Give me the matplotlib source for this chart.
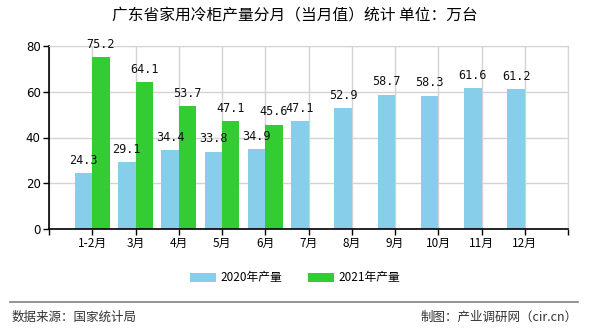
import matplotlib.pyplot as plt
import numpy as np

plt.rcParams['font.family'] = ['Noto Sans CJK SC', 'DejaVu Sans']

# --- data ---
months = ["1-2月", "3月", "4月", "5月", "6月", "7月", "8月", "9月", "10月", "11月", "12月"]
output_2020 = [24.3, 29.1, 34.4, 33.8, 34.9, 47.1, 52.9, 58.7, 58.3, 61.6, 61.2]
output_2021 = [75.2, 64.1, 53.7, 47.1, 45.6]
series_names = ["2020年产量", "2021年产量"]
y_ticks = [0, 20, 40, 60, 80]

BLUE = "#87CEEB"
GREEN = "#33CC33"


def main():
    fig = plt.figure(figsize=(5.9, 3.3), dpi=100)
    ax = fig.add_axes([49 / 590, 1 - 229 / 330, (568 - 49) / 590, (229 - 46) / 330])

    x = np.arange(len(months))
    w = 0.4
    b1 = ax.bar(x - w / 2, output_2020, width=w, color=BLUE, label=series_names[0], zorder=2)
    x2 = x[:len(output_2021)]
    b2 = ax.bar(x2 + w / 2, output_2021, width=w, color=GREEN, label=series_names[1], zorder=2)

    # value labels above each bar
    for bars, vals in ((b1, output_2020), (b2, output_2021)):
        for rect, v in zip(bars, vals):
            ax.text(rect.get_x() + rect.get_width() / 2, v + 2.8, f"{v:.1f}",
                    ha="center", va="bottom", fontsize=8.5,
                    family=["DejaVu Sans Mono"], color="#111111")

    # axes look
    ax.set_xlim(-1, len(months))
    ax.set_ylim(0, 80)
    ax.set_xticks(np.arange(-1, len(months) + 1))
    ax.set_xticklabels([""] + months + [""], fontsize=8.5)
    ax.set_yticks(y_ticks)
    ax.set_yticklabels([str(t) for t in y_ticks], fontsize=8.5, family=["DejaVu Sans"])
    ax.tick_params(axis="both", length=4, width=1, color="black", pad=2)
    ax.grid(True, color="#d3d3d3", linewidth=1, zorder=0)
    ax.set_axisbelow(True)
    for side in ("top", "right"):
        ax.spines[side].set_color("#d3d3d3")
    for side in ("left", "bottom"):
        ax.spines[side].set_color("black")
        ax.spines[side].set_linewidth(1.2)

    # title
    fig.text(0.5, 1 - 16 / 330, "广东省家用冷柜产量分月（当月值）统计 单位：万台",
             ha="center", va="center", fontsize=11.3)

    # legend
    fig.legend(handles=[b1, b2], labels=series_names, loc="center",
               bbox_to_anchor=(0.5, 1 - 278 / 330), ncol=2, frameon=False,
               fontsize=8.5, handlelength=2.2, handleheight=0.9,
               columnspacing=2.2, handletextpad=0.4)

    # footer
    fig.add_artist(plt.Line2D([10 / 590, 578 / 590], [1 - 302 / 330, 1 - 302 / 330],
                              color="#808080", linewidth=1.2))
    fig.text(12 / 590, 1 - 317 / 330, "数据来源：国家统计局", ha="left", va="center",
             fontsize=9, color="#333333")
    fig.text(578 / 590, 1 - 317 / 330, "制图：产业调研网（cir.cn）", ha="right", va="center",
             fontsize=9, color="#333333")

    fig.savefig("out.png", dpi=100)
    plt.close(fig)


if __name__ == "__main__":
    main()
